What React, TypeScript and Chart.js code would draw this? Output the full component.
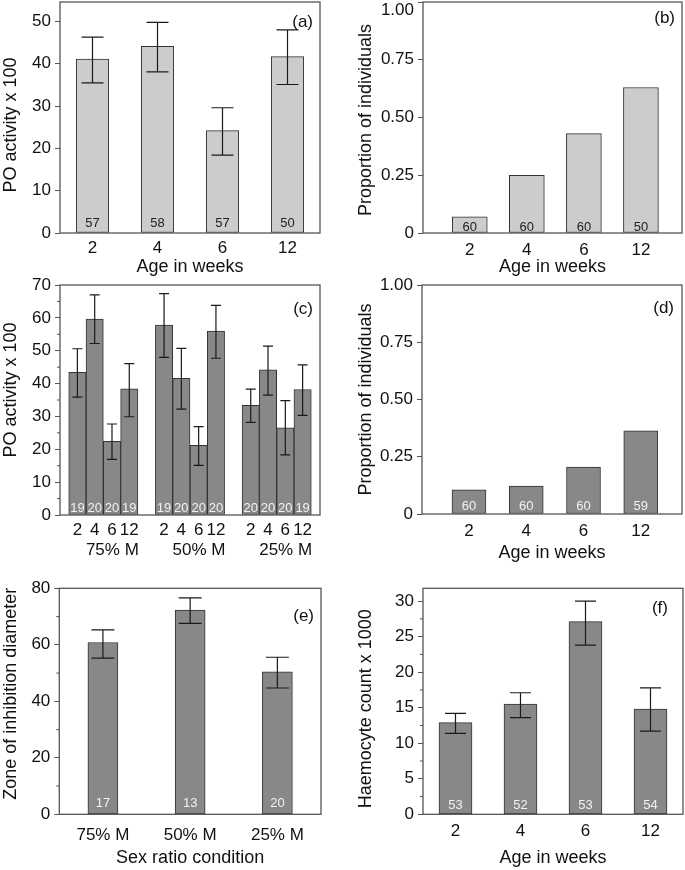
import React, { useEffect, useRef } from "react";
import { Chart, registerables } from "chart.js";

Chart.register(...registerables);

const FONT = "'Liberation Sans', Arial, Helvetica, sans-serif";

// ---------- shared ----------
const AGE_LABELS = ["2", "4", "6", "12"];
const PROP_TICKS = [0, 0.25, 0.5, 0.75, 1];
const PROP_TICK_LABELS: (string | string[])[] = ["0", "0.25", "0.50", "0.75", "1.00"];
const PROP_TICK_LABELS_TOP: (string | string[])[] = ["0", "0.25", "0.50", "0.75", ["", "1.00"]];
const SEX_RATIOS = ["75% M", "50% M", "25% M"];

// ---------- panel (a) ----------
const A_MEAN = [41.1, 44.1, 24.2, 41.7];
const A_LO = [35.5, 38.1, 18.4, 35.1];
const A_HI = [46.3, 49.8, 29.6, 48.0];
const A_N = [57, 58, 57, 50];
const A_Y_TICKS = [0, 10, 20, 30, 40, 50];

// ---------- panel (b) ----------
const B_PROP = [0.07, 0.25, 0.43, 0.63];
const B_N = [60, 60, 60, 50];

// ---------- panel (c) ----------
const C_MEAN_75 = [43.4, 59.6, 22.4, 38.4];
const C_MEAN_50 = [57.8, 41.6, 21.2, 56.0];
const C_MEAN_25 = [33.4, 44.2, 26.5, 38.2];
const C_LO_75 = [35.9, 52.2, 16.9, 29.9];
const C_LO_50 = [48.0, 32.2, 15.1, 47.7];
const C_LO_25 = [28.2, 36.5, 18.3, 30.3];
const C_HI_75 = [50.6, 67.0, 27.7, 46.1];
const C_HI_50 = [67.4, 50.7, 26.9, 63.8];
const C_HI_25 = [38.3, 51.4, 34.8, 45.7];
const C_N_75 = [19, 20, 20, 19];
const C_N_50 = [19, 20, 20, 20];
const C_N_25 = [20, 20, 20, 19];
const C_Y_TICKS = [0, 10, 20, 30, 40, 50, 60, 70];
const C_Y_MINOR = [5, 15, 25, 35, 45, 55, 65];

// ---------- panel (d) ----------
const D_PROP = [0.106, 0.122, 0.205, 0.363];
const D_N = [60, 60, 60, 59];

// ---------- panel (e) ----------
const E_MEAN = [60.8, 72.3, 50.4];
const E_LO = [55.3, 67.6, 44.7];
const E_HI = [65.3, 76.6, 55.6];
const E_N = [17, 13, 20];
const E_Y_TICKS = [0, 20, 40, 60, 80];
const E_Y_MINOR = [10, 30, 50, 70];

// ---------- panel (f) ----------
const F_MEAN = [12.9, 15.5, 27.1, 14.8];
const F_LO = [11.4, 13.6, 23.8, 11.7];
const F_HI = [14.2, 17.1, 30.0, 17.8];
const F_N = [53, 52, 53, 54];
const F_Y_TICKS = [0, 5, 10, 15, 20, 25, 30];
const F_Y_MINOR = [2.5, 7.5, 12.5, 17.5, 22.5, 27.5];

type DS = { label: string; data: number[]; lo?: number[]; hi?: number[]; n: number[] };

type Panel = {
  id: string;
  l: number; r: number; t: number; b: number;
  canvasLeft: number; canvasRight: number;
  xH: number;
  xType: "category" | "index";
  xMin?: number; xMax?: number;
  labels: string[];
  datasets: DS[];
  barColor: string;
  barThickness: number;
  yMax: number;
  yTicks: number[];
  yTickLabels?: (string | string[])[];
  yTickLineHeight?: number;
  yMinor?: number[];
  yTitle: string;
  yTitleShift: number; // + moves title down, - moves up (in spaces)
  xTitle?: string;
  xTickPad: number;
  xLabelOffset?: number;
  capHalf: number;
  countColor: string;
  countDy: number;
  letter: string;
  letterDx: number;
  letterDy: number;
  weekRowDy?: number;
};

const transpose = (rows: number[][], w: number) => rows.map((row) => row[w]);

const PANELS: Panel[] = [
  {
    id: "a", l: 60, r: 320, t: 2, b: 233, canvasLeft: 0, canvasRight: 340, xH: 44.5,
    xType: "category", labels: AGE_LABELS,
    datasets: [{ label: "a", data: A_MEAN, lo: A_LO, hi: A_HI, n: A_N }],
    barColor: "#cccccc", barThickness: 32.5, yMax: 54.6, yTicks: A_Y_TICKS,
    yTitle: "PO activity x 100", yTitleShift: 3, xTitle: "Age in weeks", xTickPad: 5,
    capHalf: 11, countColor: "#222222", countDy: 10, letter: "(a)", letterDx: 7, letterDy: 20,
  },
  {
    id: "b", l: 423, r: 682, t: 2, b: 233, canvasLeft: 355, canvasRight: 685, xH: 44.5,
    xType: "index", xMin: -0.82, xMax: 3.72, labels: AGE_LABELS,
    datasets: [{ label: "b", data: B_PROP, n: B_N }],
    barColor: "#cccccc", barThickness: 35, yMax: 1, yTicks: PROP_TICKS,
    yTickLabels: PROP_TICK_LABELS_TOP, yTickLineHeight: 1.0,
    yTitle: "Proportion of individuals", yTitleShift: 1, xTitle: "Age in weeks", xTickPad: 6.8,
    capHalf: 0, countColor: "#222222", countDy: 5.5, letter: "(b)", letterDx: 7, letterDy: 16.5,
  },
  {
    id: "c", l: 60, r: 320, t: 285, b: 515, canvasLeft: 0, canvasRight: 340, xH: 60,
    xType: "category", labels: SEX_RATIOS,
    datasets: AGE_LABELS.map((wk, w) => ({
      label: wk,
      data: transpose([C_MEAN_75, C_MEAN_50, C_MEAN_25], w),
      lo: transpose([C_LO_75, C_LO_50, C_LO_25], w),
      hi: transpose([C_HI_75, C_HI_50, C_HI_25], w),
      n: transpose([C_N_75, C_N_50, C_N_25], w),
    })),
    barColor: "#888888", barThickness: 17.3, yMax: 70, yTicks: C_Y_TICKS, yMinor: C_Y_MINOR,
    yTitle: "PO activity x 100", yTitleShift: -4, xTickPad: 24.8, xLabelOffset: 9,
    capHalf: 5, countColor: "#f2f2f2", countDy: 7, letter: "(c)", letterDx: 7, letterDy: 24,
    weekRowDy: 15,
  },
  {
    id: "d", l: 422, r: 682, t: 285, b: 514, canvasLeft: 355, canvasRight: 685, xH: 50.1,
    xType: "index", xMin: -0.82, xMax: 3.72, labels: AGE_LABELS,
    datasets: [{ label: "d", data: D_PROP, n: D_N }],
    barColor: "#888888", barThickness: 34, yMax: 1, yTicks: PROP_TICKS, yTickLabels: PROP_TICK_LABELS,
    yTitle: "Proportion of individuals", yTitleShift: 0, xTitle: "Age in weeks", xTickPad: 7.5,
    capHalf: 0, countColor: "#f2f2f2", countDy: 8, letter: "(d)", letterDx: 8, letterDy: 23,
  },
  {
    id: "e", l: 59.3, r: 321, t: 588.3, b: 814.3, canvasLeft: 0, canvasRight: 340, xH: 54.8,
    xType: "category", labels: SEX_RATIOS,
    datasets: [{ label: "e", data: E_MEAN, lo: E_LO, hi: E_HI, n: E_N }],
    barColor: "#888888", barThickness: 30, yMax: 80, yTicks: E_Y_TICKS, yMinor: E_Y_MINOR,
    yTitle: "Zone of inhibition diameter", yTitleShift: -3, xTitle: "Sex ratio condition", xTickPad: 10.5,
    capHalf: 11.5, countColor: "#f2f2f2", countDy: 11, letter: "(e)", letterDx: 7, letterDy: 28,
  },
  {
    id: "f", l: 423, r: 683, t: 588.3, b: 814.3, canvasLeft: 355, canvasRight: 685, xH: 54.8,
    xType: "category", labels: AGE_LABELS,
    datasets: [{ label: "f", data: F_MEAN, lo: F_LO, hi: F_HI, n: F_N }],
    barColor: "#888888", barThickness: 33, yMax: 31.8, yTicks: F_Y_TICKS, yMinor: F_Y_MINOR,
    yTitle: "Haemocyte count x 1000", yTitleShift: 3, xTitle: "Age in weeks", xTickPad: 7.2,
    capHalf: 10.5, countColor: "#f2f2f2", countDy: 9, letter: "(f)", letterDx: 15, letterDy: 20,
  },
];

function geometry(p: Panel) {
  const canvasTop = Math.floor(p.t - 24);
  const padTop = p.t - canvasTop;
  const h = Math.ceil(padTop + (p.b - p.t) + p.xH);
  const padBottom = h - padTop - (p.b - p.t) - p.xH;
  const w = p.canvasRight - p.canvasLeft;
  return { canvasTop, padTop, padBottom, h, w, padRight: p.canvasRight - p.r, yW: p.l - p.canvasLeft };
}

function shiftedTitle(text: string, shift: number) {
  const pad = " ".repeat(Math.abs(shift));
  return shift > 0 ? text + pad : pad + text;
}

function extrasPlugin(p: Panel) {
  return {
    id: "extras_" + p.id,
    afterDatasetsDraw(chart: any) {
      const ctx = chart.ctx as CanvasRenderingContext2D;
      const a = chart.chartArea;
      const ys = chart.scales.y;
      ctx.save();
      p.datasets.forEach((ds, di) => {
        const meta = chart.getDatasetMeta(di);
        meta.data.forEach((bar: any, j: number) => {
          const x = bar.x;
          if (ds.lo && ds.hi) {
            const y1 = ys.getPixelForValue(ds.lo[j]);
            const y2 = ys.getPixelForValue(ds.hi[j]);
            ctx.strokeStyle = "#1a1a1a";
            ctx.lineWidth = 1.2;
            ctx.beginPath();
            ctx.moveTo(x, y1);
            ctx.lineTo(x, y2);
            ctx.moveTo(x - p.capHalf, y1);
            ctx.lineTo(x + p.capHalf, y1);
            ctx.moveTo(x - p.capHalf, y2);
            ctx.lineTo(x + p.capHalf, y2);
            ctx.stroke();
          }
          ctx.fillStyle = p.countColor;
          ctx.font = `13px ${FONT}`;
          ctx.textAlign = "center";
          ctx.textBaseline = "middle";
          ctx.fillText(String(ds.n[j]), x, a.bottom - p.countDy);
          if (p.weekRowDy !== undefined) {
            ctx.fillStyle = "#111111";
            ctx.font = `17px ${FONT}`;
            ctx.fillText(ds.label, x, a.bottom + p.weekRowDy);
          }
        });
      });
      // frame
      ctx.strokeStyle = "#555555";
      ctx.lineWidth = 1.3;
      ctx.strokeRect(a.left, a.top, a.right - a.left, a.bottom - a.top);
      // minor ticks
      if (p.yMinor) {
        ctx.lineWidth = 1;
        ctx.beginPath();
        p.yMinor.forEach((v) => {
          const py = ys.getPixelForValue(v);
          ctx.moveTo(a.left - 3, py);
          ctx.lineTo(a.left, py);
        });
        ctx.stroke();
      }
      // panel letter
      ctx.fillStyle = "#111111";
      ctx.font = `17px ${FONT}`;
      ctx.textAlign = "right";
      ctx.textBaseline = "middle";
      ctx.fillText(p.letter, a.right - p.letterDx, a.top + p.letterDy);
      ctx.restore();
    },
  };
}

function buildConfig(p: Panel): any {
  const g = geometry(p);
  const tickFont = { family: FONT, size: 17 };
  const titleFont = { family: FONT, size: 18 };
  const xScale: any =
    p.xType === "category"
      ? { type: "category", offset: true }
      : {
          type: "linear",
          offset: false,
          min: p.xMin,
          max: p.xMax,
          afterBuildTicks: (s: any) => {
            s.ticks = p.labels.map((_, i) => ({ value: i }));
          },
        };
  Object.assign(xScale, {
    afterFit: (s: any) => {
      s.height = p.xH;
    },
    border: { display: false },
    grid: { display: false, drawTicks: false },
    ticks: {
      padding: p.xTickPad,
      labelOffset: p.xLabelOffset || 0,
      color: "#111111",
      font: tickFont,
      maxRotation: 0,
      autoSkip: false,
      ...(p.xType === "index" ? { callback: (_v: any, i: number) => p.labels[i] } : {}),
    },
    title: {
      display: !!p.xTitle,
      text: p.xTitle || "",
      color: "#111111",
      font: titleFont,
      padding: 0,
    },
  });

  return {
    type: "bar",
    data: {
      labels: p.xType === "category" ? p.labels : undefined,
      datasets: p.datasets.map((ds) => ({
        label: ds.label,
        data: p.xType === "index" ? ds.data.map((v, i) => ({ x: i, y: v })) : ds.data,
        backgroundColor: p.barColor,
        borderColor: "#333333",
        borderWidth: 1,
        borderSkipped: false,
        barThickness: p.barThickness,
      })),
    },
    options: {
      responsive: false,
      maintainAspectRatio: false,
      animation: false,
      layout: { padding: { left: 0, top: g.padTop, right: g.padRight, bottom: g.padBottom } },
      plugins: { legend: { display: false }, tooltip: { enabled: false } },
      scales: {
        x: xScale,
        y: {
          type: "linear",
          min: 0,
          max: p.yMax,
          afterBuildTicks: (s: any) => {
            s.ticks = p.yTicks.map((v) => ({ value: v }));
          },
          afterFit: (s: any) => {
            s.width = g.yW;
          },
          border: { display: false },
          grid: {
            display: true,
            drawOnChartArea: false,
            drawTicks: true,
            tickLength: 5,
            tickColor: "#555555",
            tickWidth: 1,
          },
          ticks: {
            padding: 4,
            color: "#111111",
            font: { ...tickFont, lineHeight: p.yTickLineHeight || 1.2 },
            callback: (v: any, i: number) => (p.yTickLabels ? p.yTickLabels[i] : String(v)),
          },
          title: {
            display: true,
            text: shiftedTitle(p.yTitle, p.yTitleShift),
            color: "#111111",
            font: titleFont,
            padding: 0,
          },
        },
      },
    },
    plugins: [extrasPlugin(p)],
  };
}

function PanelChart({ p }: { p: Panel }) {
  const ref = useRef<HTMLCanvasElement | null>(null);
  const g = geometry(p);
  useEffect(() => {
    if (!ref.current) return;
    const chart = new Chart(ref.current, buildConfig(p));
    return () => chart.destroy();
  }, []);
  return (
    <canvas
      ref={ref}
      width={g.w}
      height={g.h}
      style={{ position: "absolute", left: p.canvasLeft, top: g.canvasTop, width: g.w, height: g.h }}
    />
  );
}

export default function App() {
  return (
    <div
      style={{
        position: "absolute",
        left: 0,
        top: 0,
        width: 685,
        height: 870,
        overflow: "hidden",
        background: "#ffffff",
      }}
    >
      {PANELS.map((p) => (
        <PanelChart key={p.id} p={p} />
      ))}
    </div>
  );
}
